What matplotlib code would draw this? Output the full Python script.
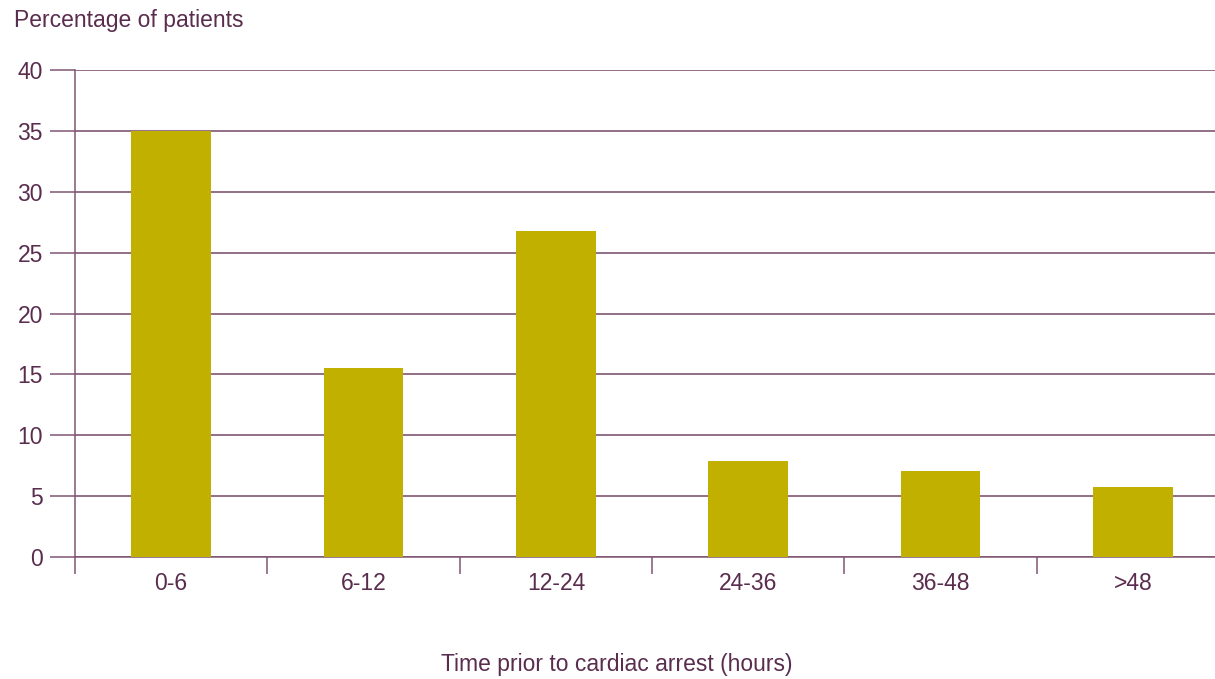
import matplotlib
matplotlib.use("Agg")
import matplotlib.pyplot as plt
import numpy as np

plt.rcParams['font.family'] = ['Liberation Sans', 'DejaVu Sans']

categories = ["0-6", "6-12", "12-24", "24-36", "36-48", ">48"]
percentages = [35.0, 15.5, 26.8, 7.9, 7.1, 5.75]
y_ticks = [0, 5, 10, 15, 20, 25, 30, 35, 40]

bar_color = "#C2B000"
line_color = "#7E5673"
text_color = "#5A2D4E"

fig = plt.figure(figsize=(12.15, 6.79), dpi=100)
ax = fig.add_axes([0.0617, 0.1797, 0.950, 0.717])

x = np.arange(len(categories))
ax.bar(x, percentages, width=0.414, color=bar_color, zorder=3)

ax.set_xlim(-0.5, len(categories) - 0.5)
ax.set_ylim(0, 40)

# horizontal rules at each y tick
ax.set_yticks(y_ticks)
ax.grid(axis="y", color=line_color, linewidth=1.2, zorder=1)
ax.tick_params(axis="y", length=18, width=1.1, color=line_color,
               labelcolor=text_color, labelsize=16.5, pad=5)

# category boundary ticks below the axis
ax.set_xticks(np.arange(-0.5, len(categories) + 0.5, 1.0))
ax.set_xticks(x, minor=True)
ax.set_xticklabels([""] * (len(categories) + 1))
ax.set_xticklabels(categories, minor=True)
ax.tick_params(axis="x", which="major", length=12, width=1.1, color=line_color)
ax.tick_params(axis="x", which="minor", length=0, labelcolor=text_color,
               labelsize=16.5, pad=10.5)

for side in ["top", "right"]:
    ax.spines[side].set_visible(False)
ax.spines["left"].set_color(line_color)
ax.spines["left"].set_linewidth(1.1)
ax.spines["bottom"].set_color(line_color)
ax.spines["bottom"].set_linewidth(1.1)

fig.text(14 / 1215, 1 - 20 / 679, "Percentage of patients", color=text_color,
         fontsize=16.5, ha="left", va="center")
fig.text(617 / 1215, 1 - 665 / 679, "Time prior to cardiac arrest (hours)",
         color=text_color, fontsize=16.5, ha="center", va="center")

fig.savefig("out.png", dpi=100, facecolor="white")
